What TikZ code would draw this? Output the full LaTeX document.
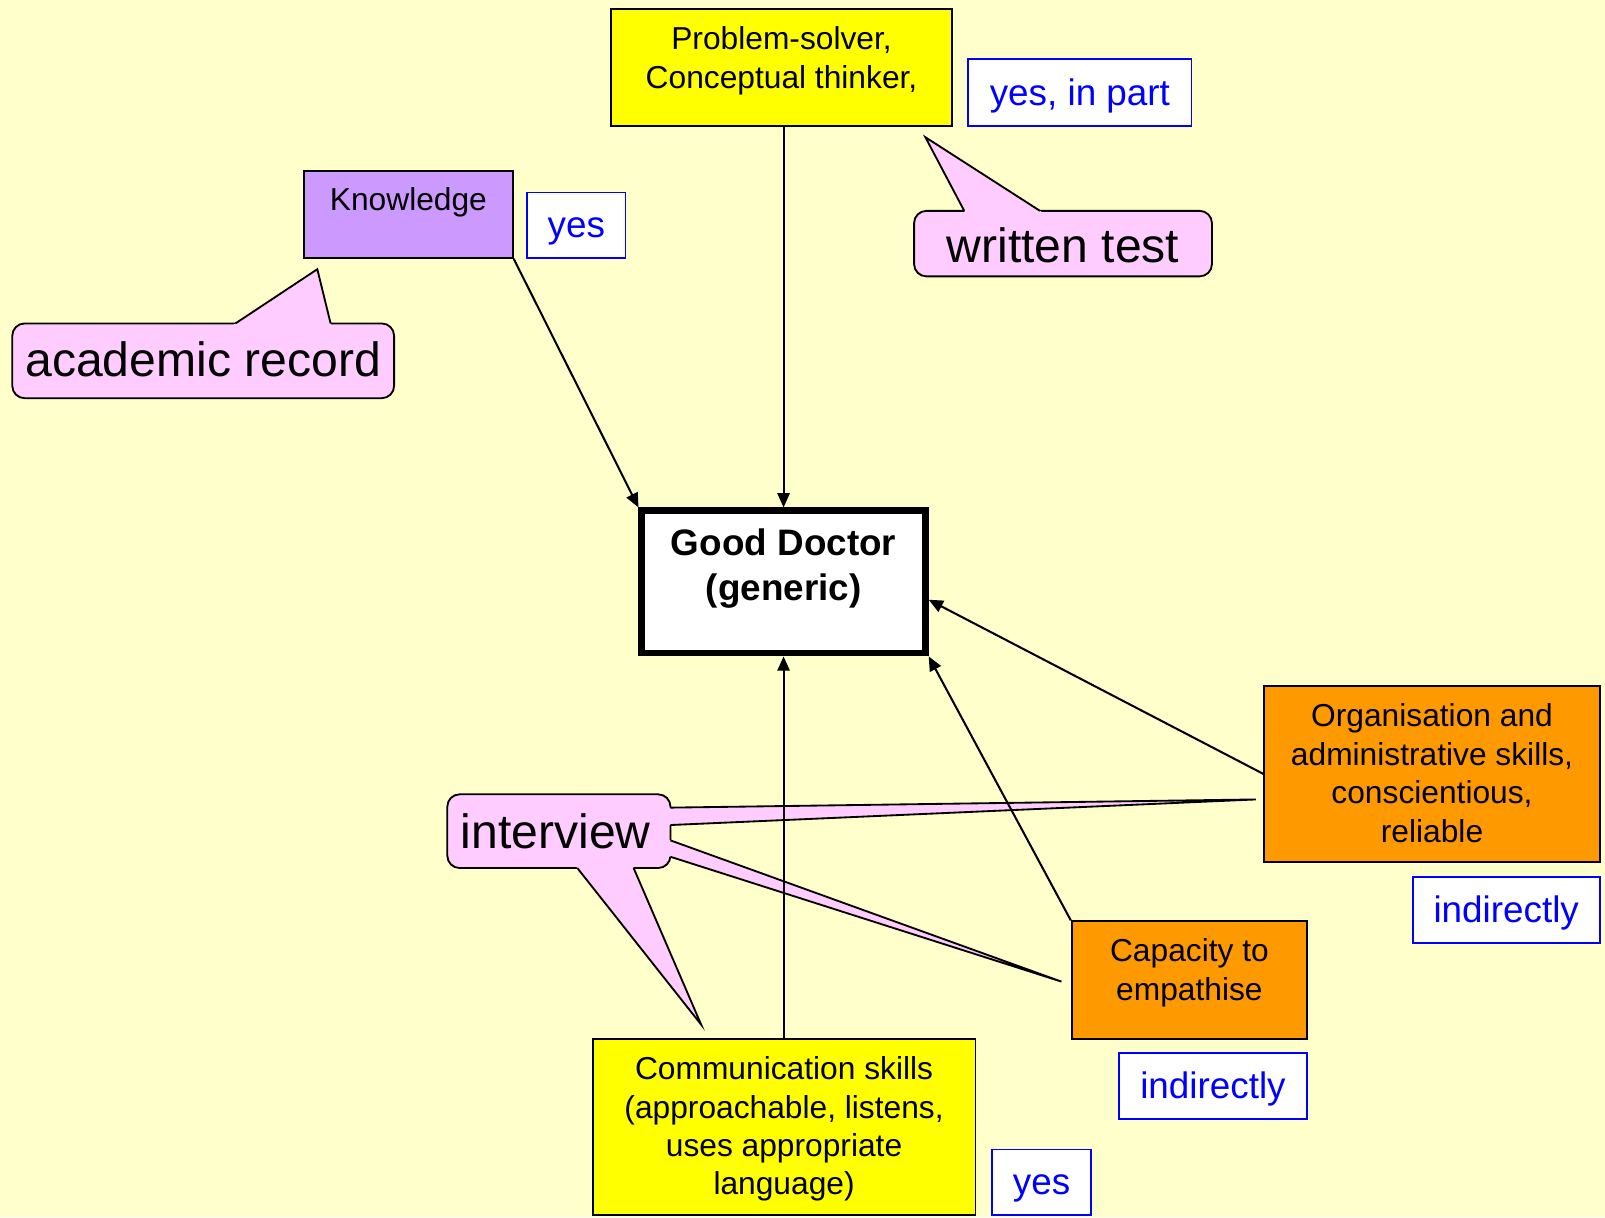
\documentclass[tikz,border=0pt]{standalone}
\usepackage{fontspec}
\setmainfont{Liberation Sans}
\usetikzlibrary{arrows.meta,calc}
\definecolor{paper}{HTML}{FFFFCC}
\definecolor{calloutpink}{HTML}{FFCCFF}
\definecolor{lavender}{HTML}{CC99FF}
\definecolor{boxyellow}{HTML}{FFFF00}
\definecolor{boxorange}{HTML}{FF9900}
\definecolor{labelblue}{HTML}{0000FF}
\begin{document}
\begin{tikzpicture}[x=1pt, y=-1pt,
  every node/.style={inner sep=0pt},
  box/.style={draw=black, line width=1.8pt},
  boxtext/.style={align=center, font=\fontsize{31}{37.6}\selectfont},
  bluebox/.style={draw=labelblue, fill=white, line width=1.8pt, text=labelblue,
    font=\fontsize{36}{43}\selectfont, text height=32pt, text depth=7.5pt},
  callout/.style={draw=black, fill=calloutpink, line width=1.8pt, rounded corners=12pt,
    font=\fontsize{47}{56}\selectfont, text height=34pt, text depth=0pt},
  tipline/.style={draw=black, line width=1.8pt, line join=miter},
  link/.style={line width=2pt, -{Triangle[length=14pt, width=12pt]}}]

% page
\useasboundingbox (0,0) rectangle (1568,1189);
\fill[paper] (0,0) rectangle (1568,1189);

% ---- callouts ----
% academic record
\node[callout, minimum width=373pt, minimum height=73pt, text height=30pt] (acad) at (198.5,352.5) {academic record};
\coordinate (acTip) at (310,263);
\coordinate (acL) at (230,316);
\coordinate (acR) at (323,316);
\fill[calloutpink] ($(acTip)!1.06!(acL)$) -- (acTip) -- ($(acTip)!1.06!(acR)$) -- cycle;
\draw[tipline] (acL) -- (acTip) -- (acR);

% written test
\node[callout, minimum width=291pt, minimum height=64pt, text height=36pt] (wtest) at (1038.5,238) {written test};
\coordinate (wtTip) at (904,134);
\coordinate (wtL) at (942,206);
\coordinate (wtR) at (1016,206);
\fill[calloutpink] ($(wtTip)!1.05!(wtL)$) -- (wtTip) -- ($(wtTip)!1.05!(wtR)$) -- cycle;
\draw[tipline] (wtL) -- (wtTip) -- (wtR);

% interview, with three pointers
\node[callout, minimum width=218pt, minimum height=72pt] (intv) at (546,812) {\hspace{-6pt}interview};
\coordinate (ivTipA) at (1227,781);
\coordinate (ivA1) at (655,789);
\coordinate (ivA2) at (655,806);
\coordinate (ivTipB) at (1037,959);
\coordinate (ivB1) at (655,821);
\coordinate (ivB2) at (655,837);
\coordinate (ivTipC) at (685,1001);
\coordinate (ivC1) at (564,848);
\coordinate (ivC2) at (619,848);
\fill[calloutpink] ($(ivTipA)!1.012!(ivA1)$) -- (ivTipA) -- ($(ivTipA)!1.012!(ivA2)$) -- cycle;
\fill[calloutpink] ($(ivTipB)!1.015!(ivB1)$) -- (ivTipB) -- ($(ivTipB)!1.015!(ivB2)$) -- cycle;
\fill[calloutpink] ($(ivTipC)!1.025!(ivC1)$) -- (ivTipC) -- ($(ivTipC)!1.025!(ivC2)$) -- cycle;
\draw[tipline] (ivA1) -- (ivTipA) -- (ivA2);
\draw[tipline] (ivB1) -- (ivTipB) -- (ivB2);
\draw[tipline] (ivC1) -- (ivTipC) -- (ivC2);

% ---- attribute boxes ----
\node[box, fill=boxyellow, minimum width=333pt, minimum height=114pt] (prob) at (763.5,66) {};
\node[boxtext] (probtext) at ([yshift=6.5pt]prob.center) {Problem-solver,\\Conceptual thinker,};
\node[bluebox, minimum width=218pt, minimum height=65pt] (probyes) at (1055,90.5) {yes, in part};

\node[box, fill=lavender, minimum width=204pt, minimum height=85pt] (know) at (399,209.5) {};
\node[boxtext] (knowtext) at ([yshift=11.5pt]know.center) {Knowledge};
\node[bluebox, minimum width=96pt, minimum height=64pt] (knowyes) at (563,220) {yes};

\node[draw=black, line width=6.5pt, fill=white, minimum width=277pt, minimum height=139pt] (doc) at (765.5,568.5) {};
\node[align=center, font=\fontsize{36}{44}\selectfont\bfseries] (doctext) at ([yshift=13.5pt]doc.center) {Good Doctor\\(generic)};

\node[box, fill=boxorange, minimum width=328pt, minimum height=172pt] (org) at (1399,756) {};
\node[boxtext] (orgtext) at ([yshift=0.5pt]org.center) {Organisation and\\administrative skills,\\conscientious,\\reliable};
\node[bluebox, minimum width=183pt, minimum height=64pt] (orgind) at (1471.5,889) {indirectly};

\node[box, fill=boxorange, minimum width=230pt, minimum height=115pt] (cap) at (1162,957.5) {};
\node[boxtext] (captext) at ([yshift=7pt]cap.center) {Capacity to\\empathise};
\node[bluebox, minimum width=184pt, minimum height=64pt] (capind) at (1185,1061) {indirectly};

\node[box, fill=boxyellow, minimum width=374pt, minimum height=172pt] (comm) at (766,1101) {};
\node[boxtext] (commtext) at ([yshift=-2pt]comm.center) {Communication skills\\(approachable, listens,\\uses appropriate\\language)};
\node[bluebox, minimum width=97pt, minimum height=64pt] (commyes) at (1017.5,1155) {yes};

% ---- links into the central box ----
\draw[link] (prob.south -| doc.north) -- (doc.north);
\draw[link] (know.south east) -- (doc.north west);
\draw[link] (comm.north -| doc.south) -- (doc.south);
\draw[link] (cap.north west) -- (doc.south east);
\draw[link] (org.west) -- (doc.-7);
\end{tikzpicture}
\end{document}
